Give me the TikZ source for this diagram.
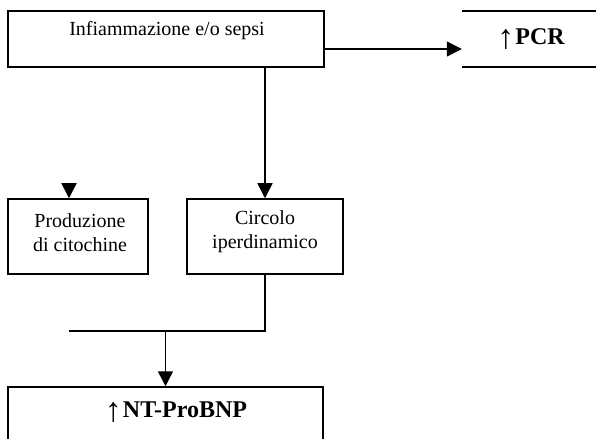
\documentclass[tikz,border=0pt]{standalone}
\usepackage{fontspec}
\setmainfont{Liberation Serif}
\usetikzlibrary{arrows.meta}
\newcommand\myuparr{{\fontsize{34bp}{34bp}\selectfont\raisebox{-4bp}{↑}}\kern1bp}
\begin{document}
\begin{tikzpicture}[x=1bp,y=-1bp,
  box/.style={draw, line width=1.5bp, rectangle, inner sep=0pt},
  nobox/.style={rectangle, inner sep=0pt},
  txt/.style={inner sep=0pt, align=center, font=\fontsize{20bp}{24bp}\selectfont},
  btxt/.style={inner sep=0pt, align=center, font=\fontsize{24bp}{28bp}\selectfont\bfseries},
  link/.style={line width=1.5bp},
  arr/.style={line width=1.5bp, -{Triangle[width=15bp,length=15bp]}}]
\useasboundingbox (0,0) rectangle (596,439);
\clip (0,0) rectangle (596,439);
% nodes
\node[box, minimum width=316bp, minimum height=56bp] (infl) at (166,39) {};
\node[txt] (infltxt) at (167,31) {Infiammazione e/o sepsi};
\node[nobox, minimum width=160bp, minimum height=56bp] (pcr) at (542,39) {};
\node[btxt] (pcrtxt) at (531,39) {\myuparr PCR};
\node[box, minimum width=140bp, minimum height=75bp] (prod) at (78,236.5) {};
\node[txt] (prodtxt) at (80,233) {Produzione\\di citochine};
\node[box, minimum width=156bp, minimum height=75bp] (circ) at (265,236.5) {};
\node[txt] (circtxt) at (265,232) {Circolo\\iperdinamico};
\node[box, minimum width=315bp, minimum height=100bp] (nt) at (165.5,437) {};
\node[btxt] (nttxt) at (176,412) {\myuparr NT-ProBNP};
% PCR box lines
\draw[link] (pcr.north west) -- (pcr.north east);
\draw[link] (pcr.south west) -- (pcr.south east);
% connectors
\draw[arr] ([yshift=-10bp]infl.east) -- ([yshift=-10bp]infl.east -| pcr.west);
\draw[arr] (infl.south -| circ.north) -- (circ.north);
\coordinate (pin) at (69,183);
\draw[arr] (pin) -- (pin |- prod.north);
\coordinate (jl) at (69,331);
\draw[link] (circ.south) |- (jl);
\draw[arr] (nt.north |- jl) -- (nt.north);
\end{tikzpicture}
\end{document}
